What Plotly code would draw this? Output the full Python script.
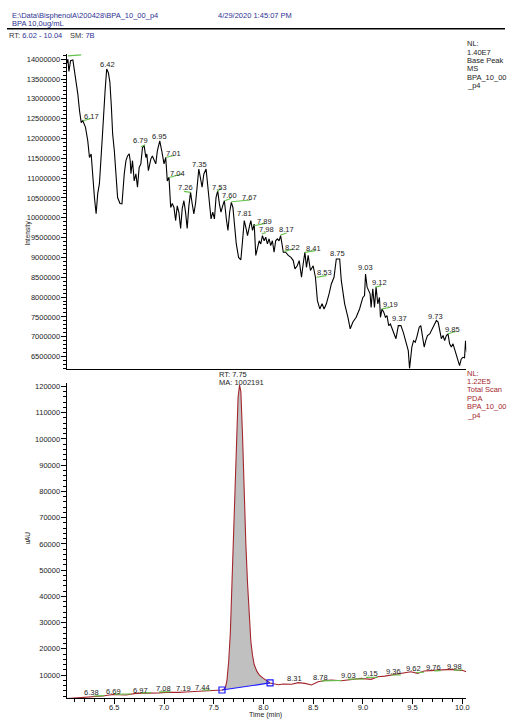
import plotly.graph_objects as go

# ---------------- data: MS base peak chromatogram (top) ----------------
ms_time = [6.022, 6.033, 6.043, 6.06, 6.083, 6.10, 6.133, 6.15, 6.167, 6.183, 6.21, 6.233, 6.25, 6.267,
           6.283, 6.30, 6.317, 6.333, 6.35, 6.367, 6.383, 6.407, 6.423, 6.44, 6.455, 6.47, 6.483, 6.50,
           6.517, 6.533, 6.557, 6.577, 6.60, 6.617, 6.633, 6.65, 6.66, 6.667, 6.683, 6.70, 6.717, 6.733,
           6.75, 6.767, 6.783, 6.80, 6.817, 6.827, 6.843, 6.867, 6.883, 6.90, 6.917, 6.933, 6.957, 6.977,
           7.00, 7.017, 7.033, 7.05, 7.067, 7.083, 7.10, 7.117, 7.133, 7.15, 7.167, 7.183, 7.20, 7.217,
           7.233, 7.25, 7.267, 7.283, 7.30, 7.317, 7.333, 7.35, 7.383, 7.40, 7.423, 7.45, 7.473, 7.49,
           7.507, 7.523, 7.54, 7.557, 7.573, 7.59, 7.607, 7.627, 7.643, 7.66, 7.677, 7.693, 7.71, 7.727,
           7.75, 7.773, 7.79, 7.807, 7.823, 7.84, 7.857, 7.873, 7.89, 7.907, 7.923, 7.94, 7.957, 7.973,
           7.99, 8.007, 8.023, 8.04, 8.057, 8.073, 8.09, 8.107, 8.123, 8.14, 8.157, 8.173, 8.183, 8.20,
           8.223, 8.25, 8.277, 8.30, 8.317, 8.34, 8.36, 8.383, 8.40, 8.417, 8.433, 8.45, 8.473, 8.50,
           8.523, 8.543, 8.567, 8.59, 8.61, 8.633, 8.66, 8.683, 8.71, 8.733, 8.75, 8.767, 8.783, 8.817,
           8.85, 8.873, 8.90, 8.933, 8.967, 9.00, 9.017, 9.027, 9.043, 9.06, 9.073, 9.083, 9.10, 9.117,
           9.133, 9.15, 9.167, 9.177, 9.193, 9.21, 9.227, 9.243, 9.26, 9.277, 9.293, 9.317, 9.333, 9.357,
           9.383, 9.407, 9.433, 9.457, 9.47, 9.493, 9.51, 9.527, 9.543, 9.567, 9.583, 9.60, 9.617, 9.633,
           9.65, 9.673, 9.69, 9.707, 9.723, 9.74, 9.757, 9.773, 9.79, 9.807, 9.823, 9.84, 9.857, 9.873,
           9.89, 9.907, 9.923, 9.94, 9.957, 9.973, 9.99, 10.007, 10.023, 10.033, 10.043]
ms_intensity = [13900000, 14000000, 13690000, 13960000, 13980000, 13710000, 13120000, 12700000, 12400000,
                12450000, 12280000, 11940000, 11520000, 11610000, 10930000, 10510000, 10100000, 10610000,
                10860000, 11440000, 12190000, 13200000, 13750000, 13660000, 13430000, 12820000, 12120000,
                11690000, 11110000, 10510000, 10360000, 10350000, 11110000, 11440000, 11560000, 11610000,
                11440000, 11110000, 11440000, 10930000, 11110000, 10770000, 11270000, 11360000, 11770000,
                11820000, 11520000, 11610000, 11190000, 11480000, 11560000, 11440000, 11360000, 11690000,
                11940000, 11690000, 11360000, 11520000, 10930000, 11020000, 10260000, 10360000, 10260000,
                9930000, 10300000, 10130000, 9730000, 10230000, 10430000, 10130000, 9730000, 10300000,
                10640000, 10360000, 10100000, 10360000, 10860000, 11230000, 10770000, 11100000, 11230000,
                10510000, 9970000, 10140000, 9970000, 10510000, 10680000, 10350000, 10140000, 10300000,
                10430000, 9970000, 9680000, 10140000, 10390000, 10260000, 9760000, 9340000, 9000000,
                8940000, 9420000, 9930000, 9760000, 9550000, 9760000, 9930000, 9680000, 9840000, 9050000,
                9250000, 9420000, 9340000, 9550000, 9420000, 9510000, 9340000, 9470000, 9300000, 9420000,
                9130000, 9420000, 9470000, 9420000, 9550000, 9420000, 9130000, 9130000, 9050000, 9000000,
                8920000, 8710000, 8790000, 8920000, 8500000, 8840000, 9130000, 8750000, 9050000, 8670000,
                8790000, 8500000, 7910000, 7700000, 7830000, 7700000, 7830000, 8080000, 8330000, 8500000,
                8960000, 8960000, 8960000, 8420000, 7830000, 7490000, 7200000, 7370000, 7490000, 7700000,
                7990000, 8040000, 8580000, 8250000, 8160000, 8080000, 7740000, 8210000, 7740000, 8250000,
                7830000, 7990000, 7490000, 7700000, 7620000, 7490000, 7530000, 7280000, 7320000, 7200000,
                7070000, 6950000, 7280000, 7280000, 7110000, 6860000, 6650000, 6200000, 6740000, 6900000,
                6860000, 6990000, 7240000, 7280000, 6990000, 6740000, 6900000, 7030000, 7070000, 7160000,
                7240000, 7320000, 7410000, 7370000, 7200000, 6950000, 7030000, 6900000, 7030000, 7070000,
                6820000, 6740000, 6820000, 6700000, 6570000, 6400000, 6270000, 6440000, 6480000, 6470000,
                6900000, 6610000]

ms_label_text = ["6.03", "6.42", "6.17", "6.79", "6.95", "7.01", "7.04", "7.26", "7.35", "7.53", "7.60",
                 "7.67", "7.81", "7.89", "7.98", "8.17", "8.22", "8.41", "8.53", "8.75", "9.03", "9.12",
                 "9.19", "9.37", "9.73", "9.85"]
ms_label_time = [6.128, 6.432, 6.272, 6.762, 6.958, 7.095, 7.138, 7.213, 7.353, 7.563, 7.658, 7.858, 7.813,
                 8.008, 8.033, 8.233, 8.295, 8.50, 8.618, 8.75, 9.025, 9.172, 9.282, 9.367, 9.733, 9.905]
ms_label_value = [14166000, 13877000, 12567000, 11937000, 12048000, 11627000, 11123000, 10771000, 11355000,
                  10771000, 10551000, 10514000, 10096000, 9902000, 9695000, 9695000, 9259000, 9216000,
                  8622000, 9090000, 8738000, 8370000, 7806000, 7453000, 7514000, 7176000]

ms_seg_t0 = [6.033, 6.183, 6.767, 7.017, 7.05, 7.20, 7.533, 7.61, 7.677, 7.907, 7.983, 8.173, 8.21, 8.417,
             8.533, 9.123, 9.193, 9.857]
ms_seg_t1 = [6.167, 6.267, 6.81, 7.10, 7.183, 7.267, 7.577, 7.673, 7.867, 8.017, 8.023, 8.233, 8.30, 8.523,
             8.633, 9.183, 9.277, 9.933]
ms_seg_v0 = [14083000, 12446000, 11791000, 11521000, 11018000, 10665000, 10665000, 10431000, 10405000,
             9801000, 9592000, 9567000, 9153000, 9128000, 8498000, 8247000, 7703000, 7073000]
ms_seg_v1 = [14108000, 12504000, 11841000, 11572000, 11103000, 10640000, 10750000, 10489000, 10448000,
             9859000, 9625000, 9617000, 9214000, 9171000, 8541000, 8289000, 7743000, 7131000]

# ---------------- data: PDA total scan (bottom) ----------------
pda_time = [6.02, 6.10, 6.15, 6.20, 6.283, 6.383, 6.45, 6.50, 6.55, 6.617, 6.717, 6.80, 6.883, 6.95, 7.017,
            7.10, 7.15, 7.22, 7.283, 7.35, 7.417, 7.50, 7.55, 7.583, 7.60, 7.617, 7.633, 7.65, 7.667,
            7.683, 7.70, 7.717, 7.733, 7.745, 7.76, 7.773, 7.79, 7.807, 7.823, 7.84, 7.857, 7.873, 7.89,
            7.907, 7.933, 7.96, 7.99, 8.033, 8.067, 8.10, 8.15, 8.20, 8.283, 8.35, 8.417, 8.483, 8.55,
            8.62, 8.683, 8.783, 8.883, 8.983, 9.083, 9.15, 9.22, 9.283, 9.35, 9.417, 9.483, 9.55, 9.617,
            9.68, 9.75, 9.82, 9.883, 9.95, 10.00, 10.04]
pda_uau = [1000, 1200, 1360, 1500, 1740, 2000, 2400, 2650, 2500, 2390, 3030, 3000, 3030, 3200, 3410,
           3350, 3410, 3550, 3640, 3800, 3910, 4050, 4100, 4300, 4500, 5200, 8000, 15000, 26000,
           44000, 65000, 87000, 106000, 116000, 120500, 118000, 101000, 78000, 60000, 45000, 32000, 23000,
           17500, 14000, 11500, 10000, 9000, 7900, 7000, 6700, 6300, 6600, 6500, 7100, 6840, 6200, 7450,
           7900, 8100, 7830, 8360, 8740, 8360, 9350, 9600, 10000, 10300, 10650, 11260, 10650, 11520,
           11700, 11900, 12000, 12170, 11900, 11800, 11260]

peak_start, peak_end = 7.583, 8.067
peak_rt_text = ["RT: 7.75", "MA: 1002191"]

pda_label_text = ["6.38", "6.69", "6.97", "7.08", "7.19", "7.44", "8.31", "8.78", "9.03", "9.15", "9.36",
                  "9.62", "9.76", "9.98"]
pda_label_time = [6.275, 6.492, 6.767, 6.992, 7.192, 7.392, 8.308, 8.575, 8.858, 9.075, 9.308, 9.508,
                  9.713, 9.925]
pda_label_value = [3530, 3640, 3980, 4980, 4980, 5240, 8550, 9160, 9730, 10570, 11260, 12550, 12970, 13240]

pda_seg_t0 = [6.29, 6.50, 6.767, 6.95, 7.383, 8.583, 8.85, 9.033, 9.283, 9.533, 9.717, 9.917]
pda_seg_t1 = [6.40, 6.667, 6.867, 7.067, 7.467, 8.783, 9.017, 9.15, 9.383, 9.617, 9.783, 10.0]
pda_seg_v0 = [2000, 2750, 3200, 3600, 4250, 7800, 8450, 9100, 10000, 11000, 11600, 11900]
pda_seg_v1 = [2150, 2800, 3300, 3650, 4300, 7900, 8500, 9150, 10050, 11050, 11650, 11950]

top_info = ["NL:", "1.40E7", "Base Peak", "MS", "BPA_10_00", "_p4"]
bottom_info = ["NL:", "1.22E5", "Total Scan", "PDA", "BPA_10_00", "_p4"]

# ---------------- figure ----------------
W, H = 508, 720
FONT = "Liberation Sans, Arial, sans-serif"
BLUE_TXT = "#2e3192"
GREEN = "#62c24a"
RED = "#a3262c"


def px(x):
    return x / W


def py(y):
    return 1 - y / H


def segments(t0, t1, v0, v1):
    xs, ys = [], []
    for a, b, c, d in zip(t0, t1, v0, v1):
        xs += [a, b, None]
        ys += [c, d, None]
    return xs, ys


fig = go.Figure()

# top chromatogram
fig.add_trace(go.Scatter(x=ms_time, y=ms_intensity, mode="lines",
                         line=dict(color="black", width=1.1), xaxis="x", yaxis="y"))
sx, sy = segments(ms_seg_t0, ms_seg_t1, ms_seg_v0, ms_seg_v1)
fig.add_trace(go.Scatter(x=sx, y=sy, mode="lines", line=dict(color=GREEN, width=1.1),
                         xaxis="x", yaxis="y"))

# bottom chromatogram: integrated peak fill
fx = [t for t in pda_time if peak_start <= t <= peak_end]
fy = [v for t, v in zip(pda_time, pda_uau) if peak_start <= t <= peak_end]
fig.add_trace(go.Scatter(x=fx, y=fy, mode="lines", fill="toself", fillcolor="#c0c0c0",
                         line=dict(width=0), xaxis="x2", yaxis="y2"))
fig.add_trace(go.Scatter(x=pda_time, y=pda_uau, mode="lines",
                         line=dict(color=RED, width=1.1), xaxis="x2", yaxis="y2"))
sx2, sy2 = segments(pda_seg_t0, pda_seg_t1, pda_seg_v0, pda_seg_v1)
fig.add_trace(go.Scatter(x=sx2, y=sy2, mode="lines", line=dict(color=GREEN, width=1.1),
                         xaxis="x2", yaxis="y2"))
fig.add_trace(go.Scatter(x=[fx[0], fx[-1]], y=[fy[0], fy[-1]], mode="lines+markers",
                         line=dict(color="#1a1aff", width=1.2),
                         marker=dict(symbol="square-open", size=6, color="#1a1aff", line=dict(width=1.2)),
                         xaxis="x2", yaxis="y2", cliponaxis=False))

tickfont = dict(family=FONT, size=7.5, color="#222")
xdom = [px(67), px(469)]
fig.update_layout(
    width=W, height=H, margin=dict(l=0, r=0, t=0, b=0),
    paper_bgcolor="white", plot_bgcolor="white", showlegend=False,
    xaxis=dict(domain=xdom, range=[6.02, 10.04], anchor="y", showline=True, linecolor="black",
               linewidth=1, showgrid=False, zeroline=False, ticks="", showticklabels=False),
    yaxis=dict(domain=[py(368.3), py(53)], range=[6191000, 14133000], anchor="x", showline=True,
               linecolor="black", linewidth=1, showgrid=False, zeroline=False, ticks="outside",
               ticklen=5, tickwidth=1, tickcolor="black", dtick=500000, tick0=0, tickformat="d",
               tickfont=tickfont, ticklabelstandoff=-1,
               minor=dict(dtick=100000, ticks="outside", ticklen=3, tickcolor="black", showgrid=False)),
    xaxis2=dict(domain=xdom, range=[6.02, 10.04], anchor="y2", showline=True, linecolor="black",
                linewidth=1, showgrid=False, zeroline=False, ticks="outside", ticklen=5,
                tickcolor="black", dtick=0.5, tick0=0, tickformat=".1f", tickfont=tickfont,
                ticklabelstandoff=-3,
                minor=dict(dtick=0.1, ticks="outside", ticklen=3, tickcolor="black", showgrid=False)),
    yaxis2=dict(domain=[py(698.3), py(383)], range=[1130, 121140], anchor="x2", showline=True,
                linecolor="black", linewidth=1, showgrid=False, zeroline=False, ticks="outside",
                ticklen=5, tickcolor="black", dtick=10000, tick0=0, tickformat="d", tickfont=tickfont,
                ticklabelstandoff=-1,
                minor=dict(dtick=2000, ticks="outside", ticklen=3, tickcolor="black", showgrid=False)),
)

ann = []
lab_font = dict(family=FONT, size=7.5, color="#222")
for t, v, s in zip(ms_label_time, ms_label_value, ms_label_text):
    ann.append(dict(x=t, y=v, xref="x", yref="y", text=s, showarrow=False, font=lab_font,
                    xanchor="center", yanchor="middle"))
for t, v, s in zip(pda_label_time, pda_label_value, pda_label_text):
    ann.append(dict(x=t, y=v, xref="x2", yref="y2", text=s, showarrow=False, font=lab_font,
                    xanchor="center", yanchor="middle"))

# peak RT / area text
for i, s in enumerate(peak_rt_text):
    ann.append(dict(x=px(218), y=py(374.5 + 8 * i), xref="paper", yref="paper", text=s, showarrow=False,
                    font=lab_font, xanchor="left", yanchor="middle"))

# right-side info blocks
for i, s in enumerate(top_info):
    ann.append(dict(x=px(468), y=py(42.7 + 8.4 * i), xref="paper", yref="paper", text=s, showarrow=False,
                    font=dict(family=FONT, size=7.5, color="#222"), xanchor="left", yanchor="middle"))
for i, s in enumerate(bottom_info):
    ann.append(dict(x=px(468), y=py(372.7 + 8.4 * i), xref="paper", yref="paper", text=s, showarrow=False,
                    font=dict(family=FONT, size=7.5, color="#a3262c"), xanchor="left", yanchor="middle"))

# header
hfont = dict(family=FONT, size=7.5, color=BLUE_TXT)
ann.append(dict(x=px(10), y=py(14.5), xref="paper", yref="paper", xanchor="left", yanchor="middle",
                text="E:\\Data\\BisphenolA\\200428\\BPA_10_00_p4", showarrow=False, font=hfont))
ann.append(dict(x=px(10), y=py(22.5), xref="paper", yref="paper", xanchor="left", yanchor="middle",
                text="BPA 10,0ug/mL", showarrow=False, font=hfont))
ann.append(dict(x=px(217), y=py(14.5), xref="paper", yref="paper", xanchor="left", yanchor="middle",
                text="4/29/2020 1:45:07 PM", showarrow=False, font=hfont))
ann.append(dict(x=px(7), y=py(34.5), xref="paper", yref="paper", xanchor="left", yanchor="middle",
                text="RT: <span style='color:%s'>6.02 - 10.04</span>" % BLUE_TXT, showarrow=False,
                font=dict(family=FONT, size=7.5, color="#333")))
ann.append(dict(x=px(68), y=py(34.5), xref="paper", yref="paper", xanchor="left", yanchor="middle",
                text="SM: <span style='color:%s'>7B</span>" % BLUE_TXT, showarrow=False,
                font=dict(family=FONT, size=7.5, color="#333")))

# axis titles
ann.append(dict(x=px(22.5), y=py(218), xref="paper", yref="paper", text="Intensity", textangle=-90,
                showarrow=False, font=dict(family=FONT, size=6.5, color="#222")))
ann.append(dict(x=px(22.5), y=py(546), xref="paper", yref="paper", text="uAU", textangle=-90,
                showarrow=False, font=dict(family=FONT, size=6.5, color="#222")))
ann.append(dict(x=px(267), y=0, xref="paper", yref="paper", text="Time (min)",
                showarrow=False, font=dict(family=FONT, size=7, color="#222"),
                xanchor="center", yanchor="bottom", borderpad=0))

fig.update_layout(annotations=ann)
fig.add_shape(type="line", xref="paper", yref="paper", x0=px(7), x1=1, y0=py(27.7), y1=py(27.7),
              line=dict(color="black", width=1.5))

fig.write_html("out.html")
